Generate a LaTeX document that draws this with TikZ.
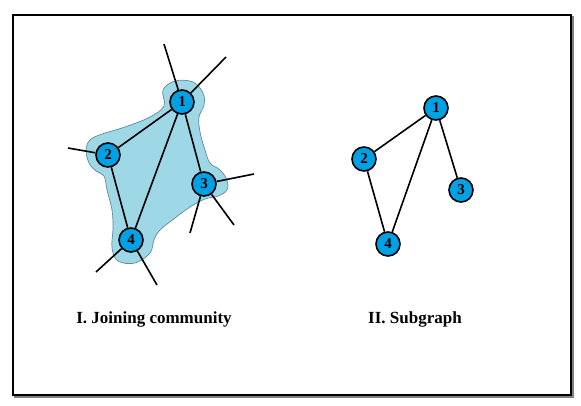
\documentclass[tikz,border=0pt]{standalone}
\usepackage{fontspec}
\setmainfont{Liberation Serif}
\definecolor{nodeblue}{RGB}{0,160,228}
\definecolor{blobfill}{RGB}{158,215,230}
\definecolor{blobline}{RGB}{95,140,155}
\begin{document}
\begin{tikzpicture}[x=1pt,y=-1pt,
  vtx/.style={circle,draw=black,line width=1.6pt,fill=nodeblue,minimum size=24pt,inner sep=0pt,font=\fontsize{15}{15}\selectfont\bfseries},
  edge/.style={line width=1.6pt,black},
  lbl/.style={font=\fontsize{17}{18}\selectfont\bfseries}]
\useasboundingbox (0,0) rectangle (581,406);
% frame
\draw[gray,line width=1.6pt] (573,16) -- (573,397) -- (14,397);
\draw[black,line width=2.8pt] (13,15) rectangle (571,395);
% community blob
\draw[blobline,fill=blobfill,line width=0.7pt] plot[smooth cycle,tension=0.6] coordinates {
 (175,81) (193,82) (203,93) (204,105) (199,117) (200,132) (205,150) (210,163)
 (220,170) (227,180) (227,190) (218,196) (205,199) (190,207) (175,218) (160,230)
 (154,240) (150,253) (135,263) (118,261) (112,248) (113,228) (112,210) (107,190)
 (104,176) (96,171) (89,163) (86,150) (90,140) (102,134) (125,127) (150,117)
 (164,106) (163,90)};
% left graph nodes
\node[vtx] (a1) at (182,102) {1};
\node[vtx] (a2) at (108,155) {2};
\node[vtx] (a3) at (204,184) {3};
\node[vtx] (a4) at (131,240) {4};
% free ends
\coordinate (e1) at (164,44);
\coordinate (e2) at (226,57);
\coordinate (e3) at (68,148);
\coordinate (e4) at (254,174);
\coordinate (e5) at (234,225);
\coordinate (e6) at (190,233);
\coordinate (e7) at (96,272);
\coordinate (e8) at (157,285);
\draw[edge] (a1) -- (e1);
\draw[edge] (a1) -- (e2);
\draw[edge] (a2) -- (e3);
\draw[edge] (a3) -- (e4);
\draw[edge] (a3) -- (e5);
\draw[edge] (a3) -- (e6);
\draw[edge] (a4) -- (e7);
\draw[edge] (a4) -- (e8);
\draw[edge] (a1) -- (a2);
\draw[edge] (a1) -- (a3);
\draw[edge] (a1) -- (a4);
\draw[edge] (a2) -- (a4);
% right graph
\node[vtx] (b1) at (436,108) {1};
\node[vtx] (b2) at (364,159) {2};
\node[vtx] (b3) at (461,190) {3};
\node[vtx] (b4) at (388,244) {4};
\draw[edge] (b1) -- (b2);
\draw[edge] (b1) -- (b3);
\draw[edge] (b1) -- (b4);
\draw[edge] (b2) -- (b4);
% labels
\node[lbl] (l1) at (154,319) {I. Joining community};
\node[lbl] (l2) at (415,319) {II. Subgraph};
\end{tikzpicture}
\end{document}
